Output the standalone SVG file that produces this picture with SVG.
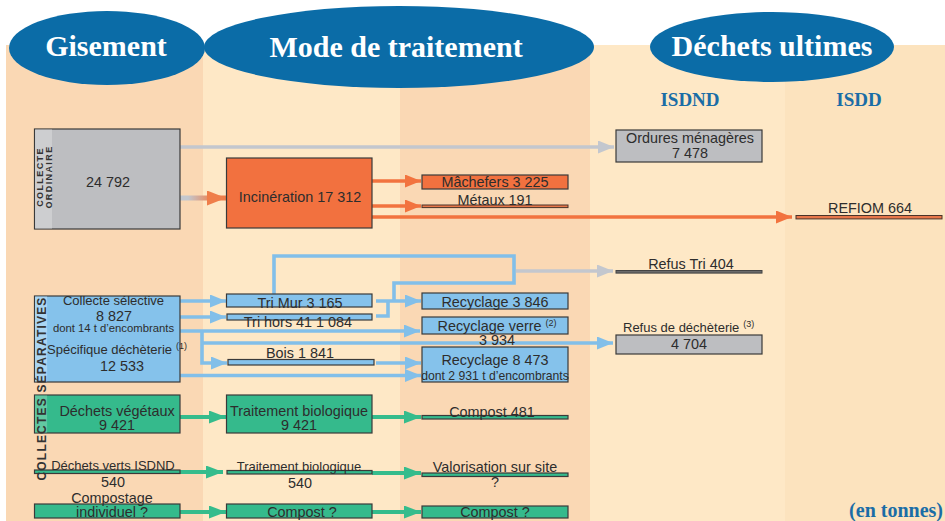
<svg xmlns="http://www.w3.org/2000/svg" width="945" height="521" viewBox="0 0 945 521">
<style>
.t{font-family:"Liberation Sans",Arial,sans-serif;font-size:14.4px;fill:#2d2d2d;text-anchor:middle}
.s13{font-size:13px}
.s12{font-size:12.2px}
.s11{font-size:11.3px}
.sup{font-size:9px}
.hd{font-family:"Liberation Serif",serif;font-weight:bold;font-size:30px;fill:#fff;text-anchor:middle}
.bl{font-family:"Liberation Serif",serif;font-weight:bold;font-size:19px;fill:#1A6DA6;text-anchor:middle}
.vt{font-family:"Liberation Sans",Arial,sans-serif;font-weight:bold;font-size:9px;fill:#333;text-anchor:middle;letter-spacing:1.4px}
.box{stroke:#3a3a3a;stroke-width:1.2}
.gray{fill:#BDBEC1}.grayl{fill:#CDCED0}
.org{fill:#F2713F}
.blu{fill:#85C2EB}.blul{fill:#AAD5F2}
.grn{fill:#35BA8C}.grnl{fill:#62C8A2}
.cb{fill:none;stroke:#82BFE9;stroke-width:3.6}
.co{fill:none;stroke:#F2733F;stroke-width:3.4}
.cg{fill:none;stroke:#C3C7CE;stroke-width:3.4}
.cv{fill:none;stroke:#35BC8C;stroke-width:3.8}
.band1{fill:#FAD8B4}.band2{fill:#FEE8C6}.band3{fill:#FCE3BE}
</style>
<defs>
<marker id="ab" markerUnits="userSpaceOnUse" markerWidth="16" markerHeight="13" refX="16" refY="6.5" orient="auto"><path d="M0,0 L16,6.5 L0,13 z" fill="#82BFE9"/></marker>
<marker id="ao" markerUnits="userSpaceOnUse" markerWidth="16" markerHeight="13" refX="16" refY="6.5" orient="auto"><path d="M0,0 L16,6.5 L0,13 z" fill="#F2733F"/></marker>
<marker id="aob" markerUnits="userSpaceOnUse" markerWidth="19" markerHeight="15" refX="19" refY="7.5" orient="auto"><path d="M0,0 L19,7.5 L0,15 z" fill="#EF7E4A"/></marker>
<marker id="ag" markerUnits="userSpaceOnUse" markerWidth="16" markerHeight="13" refX="16" refY="6.5" orient="auto"><path d="M0,0 L16,6.5 L0,13 z" fill="#C3C7CE"/></marker>
<marker id="av" markerUnits="userSpaceOnUse" markerWidth="17" markerHeight="13" refX="17" refY="6.5" orient="auto"><path d="M0,0 L17,6.5 L0,13 z" fill="#35BC8C"/></marker>
<linearGradient id="gro" gradientUnits="userSpaceOnUse" x1="188" y1="0" x2="214" y2="0">
<stop offset="0" stop-color="#C3C7CE"/><stop offset="1" stop-color="#EF7E4A"/>
</linearGradient>
</defs>

<g id="background">
<rect class="band1" x="6" y="45" width="197" height="476"/>
<rect class="band2" x="203" y="45" width="197" height="476"/>
<rect class="band1" x="400" y="45" width="190" height="476"/>
<rect class="band2" x="590" y="45" width="195" height="476"/>
<rect class="band3" x="785" y="45" width="160" height="476"/>
</g>

<g id="headers">
<g id="h-gisement"><ellipse cx="107" cy="48" rx="98" ry="37" fill="#0B6CA7"/><text class="hd" x="106" y="56">Gisement</text></g>
<g id="h-mode"><ellipse cx="399" cy="47" rx="195" ry="41" fill="#0B6CA7"/><text class="hd" x="396" y="57">Mode de traitement</text></g>
<g id="h-dechets"><ellipse cx="772" cy="47" rx="122" ry="35" fill="#0B6CA7"/><text class="hd" x="772" y="56">Déchets ultimes</text></g>
<text class="bl" x="690" y="106">ISDND</text>
<text class="bl" x="859" y="106">ISDD</text>
<text class="bl" x="943" y="517" style="text-anchor:end;font-size:20px">(en tonnes)</text>
</g>

<g id="connectors">
<path class="cg" d="M180,147 H614" marker-end="url(#ag)"/>
<path d="M180,198 H226" fill="none" stroke="url(#gro)" stroke-width="5" marker-end="url(#aob)"/>
<path class="co" d="M372,181 H421" marker-end="url(#ao)"/>
<path class="co" d="M372,206 H421" marker-end="url(#ao)"/>
<path class="co" d="M372,217 H792" marker-end="url(#ao)"/>
<path class="cb" d="M274,294 V256 H514 V283 H394 V301"/>
<path class="cb" d="M376,316 H388 V301"/>
<path class="cg" d="M516,271 H613" marker-end="url(#ag)"/>
<path class="cb" d="M180,301 H226" marker-end="url(#ab)"/>
<path class="cb" d="M180,317 H226" marker-end="url(#ab)"/>
<path class="cb" d="M376,301 H421" marker-end="url(#ab)"/>
<path class="cb" d="M180,331 H420" marker-end="url(#ab)"/>
<path class="cb" d="M202,331 V363 H227" marker-end="url(#ab)"/>
<path class="cb" d="M202,343 H613" marker-end="url(#ab)"/>
<path class="cb" d="M376,363 H421" marker-end="url(#ab)"/>
<path class="cb" d="M180,375.5 H421" marker-end="url(#ab)"/>
<path class="cv" d="M180,417 H226" marker-end="url(#av)"/>
<path class="cv" d="M372,417 H421" marker-end="url(#av)"/>
<path class="cv" d="M180,472 H223" marker-end="url(#av)"/>
<path class="cv" d="M372,473 H421" marker-end="url(#av)"/>
<path class="cv" d="M180,512 H226" marker-end="url(#av)"/>
<path class="cv" d="M372,512 H421" marker-end="url(#av)"/>
</g>

<g id="collecte-ordinaire">
<rect class="gray box" x="34.5" y="129" width="145.5" height="100"/>
<rect class="grayl" x="35.1" y="129.6" width="16.9" height="98.8"/>
<text class="vt" transform="translate(43,177) rotate(-90)">COLLECTE</text>
<text class="vt" transform="translate(51.5,177) rotate(-90)">ORDINAIRE</text>
<text class="t" x="108" y="187">24 792</text>
</g>

<g id="incineration">
<rect class="org box" x="226.5" y="158" width="145.5" height="70"/>
<text class="t" x="300" y="202">Incinération 17 312</text>
</g>

<g id="ordures">
<rect class="gray box" x="616" y="130" width="146" height="32"/>
<text class="t" x="690" y="143">Ordures ménagères</text>
<text class="t" x="690" y="158">7 478</text>
</g>

<g id="machefers">
<rect class="org box" x="422" y="175" width="146" height="14"/>
<text class="t" x="495" y="187">Mâchefers 3 225</text>
</g>

<g id="metaux">
<rect x="422" y="205" width="146" height="2.6" fill="#E8774A" stroke="#4a3328" stroke-width="1"/>
<text class="t" x="495" y="205">Métaux 191</text>
</g>

<g id="refiom">
<rect x="796" y="215.5" width="146" height="3.4" fill="#E8774A" stroke="#4a3328" stroke-width="1"/>
<text class="t" x="870" y="213">REFIOM 664</text>
</g>

<g id="refus-tri">
<rect x="616" y="270.5" width="146" height="2.6" fill="#6a6a6a" stroke="#444" stroke-width="1"/>
<text class="t" x="691" y="268.5">Refus Tri 404</text>
</g>

<g id="collecte-selective">
<rect class="blu box" x="34.5" y="296" width="145.5" height="86"/>
<rect class="blul" x="35.1" y="296.6" width="12" height="84.8"/>
<text class="t s13" x="113.5" y="305">Collecte sélective</text>
<text class="t" x="114" y="320.5">8 827</text>
<text class="t s11" x="113.5" y="331.5">dont 14 t d’encombrants</text>
<text class="t s13" x="47" y="354" style="text-anchor:start">Spécifique déchèterie<tspan class="sup" dx="4" dy="-5">(1)</tspan></text>
<text class="t" x="122" y="370.5">12 533</text>
</g>

<g id="tri-mur">
<rect class="blu box" x="226.5" y="294" width="145.5" height="13"/>
<text class="t" x="300" y="308">Tri Mur 3 165</text>
</g>

<g id="tri-hors">
<rect class="blu box" x="227" y="314" width="145" height="6"/>
<text class="t" x="298" y="327">Tri hors 41 1 084</text>
</g>

<g id="bois">
<rect class="blu box" x="228" y="359.5" width="146" height="5.5"/>
<text class="t" x="300" y="358">Bois 1 841</text>
</g>

<g id="recyclage-3846">
<rect class="blu box" x="422" y="293" width="146" height="16"/>
<text class="t" x="495" y="307">Recyclage 3 846</text>
</g>

<g id="recyclage-verre">
<rect class="blu box" x="422" y="317" width="146" height="17"/>
<text class="t" x="437.5" y="330.5" style="text-anchor:start">Recyclage verre<tspan class="sup" dx="4" dy="-5">(2)</tspan></text>
<text class="t" x="497" y="345">3 934</text>
</g>

<g id="recyclage-8473">
<rect class="blu box" x="422" y="347" width="146" height="35"/>
<text class="t" x="495" y="365">Recyclage 8 473</text>
<text class="t s12" x="495" y="380">dont 2 931 t d’encombrants</text>
</g>

<g id="refus-decheterie">
<rect class="gray box" x="616" y="335" width="146" height="19"/>
<text class="t s13" x="623" y="332" style="text-anchor:start">Refus de déchèterie<tspan class="sup" dx="4" dy="-5">(3)</tspan></text>
<text class="t" x="689" y="349">4 704</text>
</g>

<g id="dechets-vegetaux">
<rect class="grn box" x="34.5" y="395" width="145.5" height="38"/>
<rect class="grnl" x="35.1" y="395.6" width="12" height="36.8"/>
<text class="t" x="117" y="415.5">Déchets végétaux</text>
<text class="t" x="117" y="430">9 421</text>
</g>

<g id="traitement-bio-1">
<rect class="grn box" x="226.5" y="395" width="145.5" height="38"/>
<text class="t" x="299" y="415.5">Traitement biologique</text>
<text class="t" x="299" y="430">9 421</text>
</g>

<g id="compost-481">
<rect class="grn box" x="422" y="415.5" width="146" height="3.5"/>
<text class="t" x="492" y="416.5">Compost 481</text>
</g>

<g id="dechets-verts-isdnd">
<rect class="grn box" x="34.5" y="470" width="145.5" height="3.5"/>
<text class="t s13" x="113" y="470">Déchets verts ISDND</text>
<text class="t" x="113" y="486.5">540</text>
</g>

<g id="traitement-bio-2">
<rect class="grn box" x="227" y="470.5" width="145" height="3.5"/>
<text class="t s13" x="299" y="471">Traitement biologique</text>
<text class="t" x="300" y="488">540</text>
</g>

<g id="valorisation">
<rect class="grn box" x="422" y="473" width="146" height="3.5"/>
<text class="t" x="495" y="471.5">Valorisation sur site</text>
<text class="t" x="495" y="487">?</text>
</g>

<g id="compostage">
<rect class="grn box" x="34.5" y="504" width="145.5" height="14"/>
<text class="t" x="112" y="503">Compostage</text>
<text class="t" x="112" y="517">individuel ?</text>
</g>

<g id="compost-mid">
<rect class="grn box" x="226.5" y="504" width="145.5" height="14"/>
<text class="t" x="302" y="516.5">Compost ?</text>
</g>

<g id="compost-right">
<rect class="grn box" x="422" y="506" width="146" height="12"/>
<text class="t" x="495" y="517">Compost ?</text>
</g>

<g id="collectes-separatives-label">
<text class="vt" style="font-size:12px;letter-spacing:1.2px" transform="translate(45.5,388.5) rotate(-90)">COLLECTES SÉPARATIVES</text>
</g>
</svg>
